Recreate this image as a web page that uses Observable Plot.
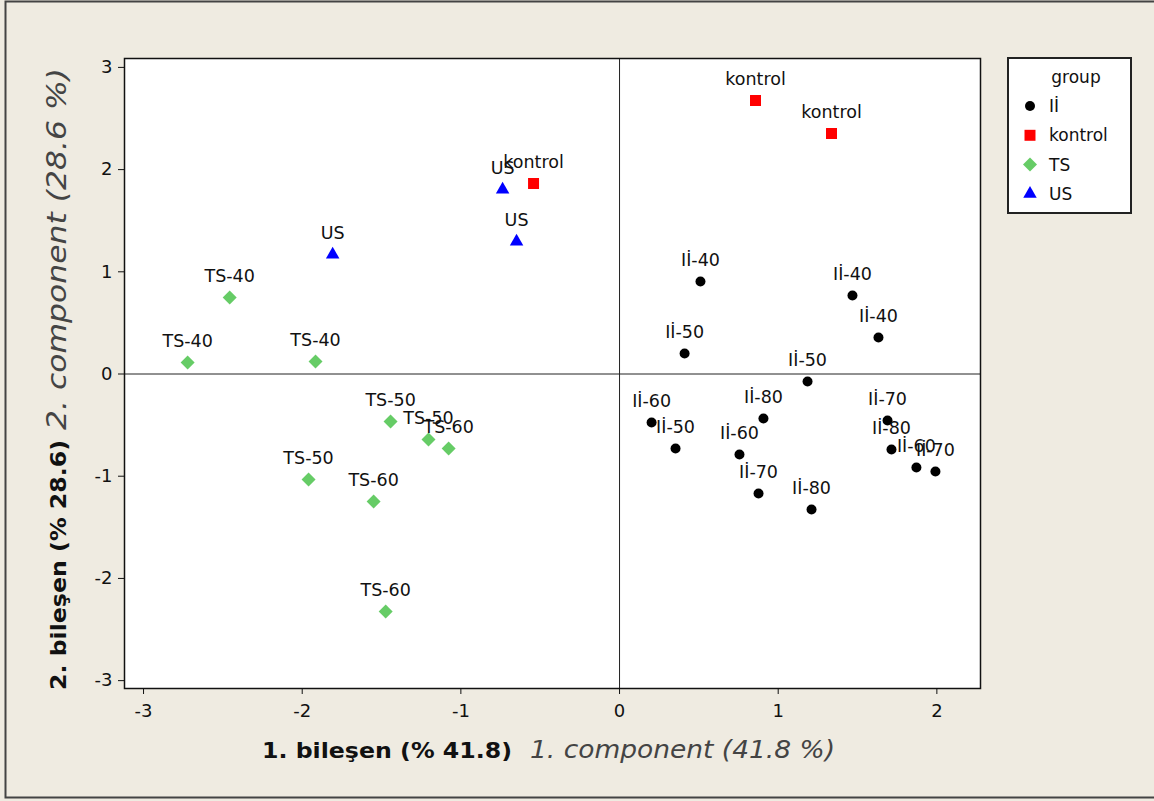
<!DOCTYPE html>
<html>
<head>
<meta charset="utf-8">
<script src="https://cdn.jsdelivr.net/npm/d3@7"></script>
<script src="https://cdn.jsdelivr.net/npm/@observablehq/plot@0.6"></script>
<style>
  html, body { margin: 0; padding: 0; background: #efebe1; }
  #chart { position: relative; width: 1154px; height: 801px; }
</style>
</head>
<body>
<div id="chart"></div>
<script>
// ---- data ----
const groups = ["Iİ", "kontrol", "TS", "US"];
const groupColors = ["#000000", "#ff0000", "#66cc66", "#0000ff"];
const groupSymbols = ["circle", "square", "diamond2", "triangle"];

const iiX = [0.510, 1.468, 1.632, 0.410, 1.185, 0.202, 0.353, 0.907, 0.756, 0.876, 1.210, 1.689, 1.714, 1.871, 1.991];
const iiY = [0.905, 0.768, 0.357, 0.201, -0.073, -0.475, -0.729, -0.435, -0.788, -1.169, -1.326, -0.455, -0.739, -0.915, -0.954];
const iiLabels = ["Iİ-40", "Iİ-40", "Iİ-40", "Iİ-50", "Iİ-50", "Iİ-60", "Iİ-50", "Iİ-80", "Iİ-60", "Iİ-70", "Iİ-80", "Iİ-70", "Iİ-80", "Iİ-60", "Iİ-70"];

const kontrolX = [0.857, 1.336, -0.542];
const kontrolY = [2.676, 2.353, 1.864];
const kontrolLabels = ["kontrol", "kontrol", "kontrol"];

const tsX = [-2.457, -2.722, -1.916, -1.443, -1.204, -1.077, -1.960, -1.550, -1.474];
const tsY = [0.749, 0.113, 0.122, -0.465, -0.641, -0.729, -1.032, -1.247, -2.324];
const tsLabels = ["TS-40", "TS-40", "TS-40", "TS-50", "TS-50", "TS-60", "TS-50", "TS-60", "TS-60"];

const usX = [-0.737, -0.649, -1.808];
const usY = [1.805, 1.296, 1.169];
const usLabels = ["US", "US", "US"];

const xTicks = [-3, -2, -1, 0, 1, 2];
const yTicks = [-3, -2, -1, 0, 1, 2, 3];
const xDomain = [-3.12, 2.275];
const yDomain = [-3.077, 3.087];

const xLabelBold = "1. bileşen (% 41.8)";
const xLabelItalic = "1. component (41.8 %)";
const yLabelBold = "2. bileşen (% 28.6)";
const yLabelItalic = "2. component (28.6 %)";
const legendTitle = "group";

// ---- build tables ----
const mk = (xs, ys, ls) => xs.map((x, i) => ({x, y: ys[i], label: ls[i]}));
const series = [
  {data: mk(iiX, iiY, iiLabels), r: 5},
  {data: mk(kontrolX, kontrolY, kontrolLabels), r: 6.2},
  {data: mk(tsX, tsY, tsLabels), r: 6.3},
  {data: mk(usX, usY, usLabels), r: 5}
];
const allPoints = series.flatMap(s => s.data);

const font = "DejaVu Sans, Verdana, sans-serif";
const fmt = d => String(d);

const plot = Plot.plot({
  width: 1154,
  height: 801,
  marginLeft: 124,
  marginRight: 174,
  marginTop: 58,
  marginBottom: 113,
  style: {background: "#efebe1", fontFamily: font, color: "#111"},
  x: {domain: xDomain},
  y: {domain: yDomain},
  marks: [
    Plot.frame({fill: "white", stroke: null}),
    Plot.ruleX([0], {stroke: "#222", strokeWidth: 1}),
    Plot.ruleY([0], {stroke: "#222", strokeWidth: 1}),
    ...series.map((s, i) => Plot.dot(s.data, {
      x: "x", y: "y", r: s.r, symbol: () => groupSymbols[i],
      fill: groupColors[i], stroke: null
    })),
    Plot.text(allPoints, {
      x: "x", y: "y", text: "label", dy: -21,
      fontSize: 17.5, fill: "#111"
    }),
    Plot.frame({stroke: "#111", strokeWidth: 1.5}),
    Plot.axisX({ticks: xTicks, tickFormat: fmt, tickSize: 6, tickPadding: 10, fontSize: 18, label: null, stroke: "#111"}),
    Plot.axisY({ticks: yTicks, tickFormat: fmt, tickSize: 6, tickPadding: 6, fontSize: 18, label: null, stroke: "#111"})
  ]
});

document.getElementById("chart").appendChild(plot);

// ---- custom decorations: mixed-style axis titles, legend, border ----
const svg = d3.select(plot);

// x axis title (bold Turkish + italic English)
svg.append("text")
  .attr("x", 262).attr("y", 758)
  .attr("text-anchor", "start")
  .attr("font-family", font).attr("font-weight", "bold").attr("font-size", 21)
  .attr("textLength", 250).attr("lengthAdjust", "spacingAndGlyphs")
  .attr("fill", "#111").text(xLabelBold);
svg.append("text")
  .attr("x", 530).attr("y", 758)
  .attr("text-anchor", "start")
  .attr("font-family", font).attr("font-style", "italic").attr("font-size", 24)
  .attr("textLength", 305).attr("lengthAdjust", "spacingAndGlyphs")
  .attr("fill", "#444").text(xLabelItalic);

// y axis title (rotated)
const yl = svg.append("g").attr("transform", "translate(66,0) rotate(-90)");
yl.append("text")
  .attr("x", -690).attr("y", 0)
  .attr("text-anchor", "start")
  .attr("font-family", font).attr("font-weight", "bold").attr("font-size", 21)
  .attr("textLength", 250).attr("lengthAdjust", "spacingAndGlyphs")
  .attr("fill", "#111").text(yLabelBold);
yl.append("text")
  .attr("x", -430).attr("y", 0)
  .attr("text-anchor", "start")
  .attr("font-family", font).attr("font-style", "italic").attr("font-size", 26)
  .attr("textLength", 362).attr("lengthAdjust", "spacingAndGlyphs")
  .attr("fill", "#444").text(yLabelItalic);

// legend
const lg = svg.append("g");
lg.append("rect").attr("x", 1008).attr("y", 58).attr("width", 123).attr("height", 155)
  .attr("fill", "white").attr("stroke", "#222").attr("stroke-width", 2);
lg.append("text").attr("x", 1076).attr("y", 77).attr("dy", "0.35em")
  .attr("text-anchor", "middle").attr("font-family", font).attr("font-size", 17).attr("fill", "#111")
  .text(legendTitle);
const symMap = {circle: d3.symbolCircle, square: d3.symbolSquare, diamond2: d3.symbolDiamond2, triangle: d3.symbolTriangle};
groups.forEach((g, i) => {
  const yy = 106 + i * 29.3;
  const r = series[i].r;
  lg.append("path")
    .attr("transform", `translate(1030,${yy})`)
    .attr("d", d3.symbol(symMap[groupSymbols[i]], r * r * Math.PI)())
    .attr("fill", groupColors[i]);
  lg.append("text").attr("x", 1049).attr("y", yy).attr("dy", "0.35em")
    .attr("text-anchor", "start")
    .attr("font-family", font).attr("font-size", 17).attr("fill", "#111")
    .text(g);
});

// outer border
svg.append("path").attr("d", "M1160,1.5 H5.5 V797.5 H1160")
  .attr("fill", "none").attr("stroke", "#444").attr("stroke-width", 2);
</script>
</body>
</html>
